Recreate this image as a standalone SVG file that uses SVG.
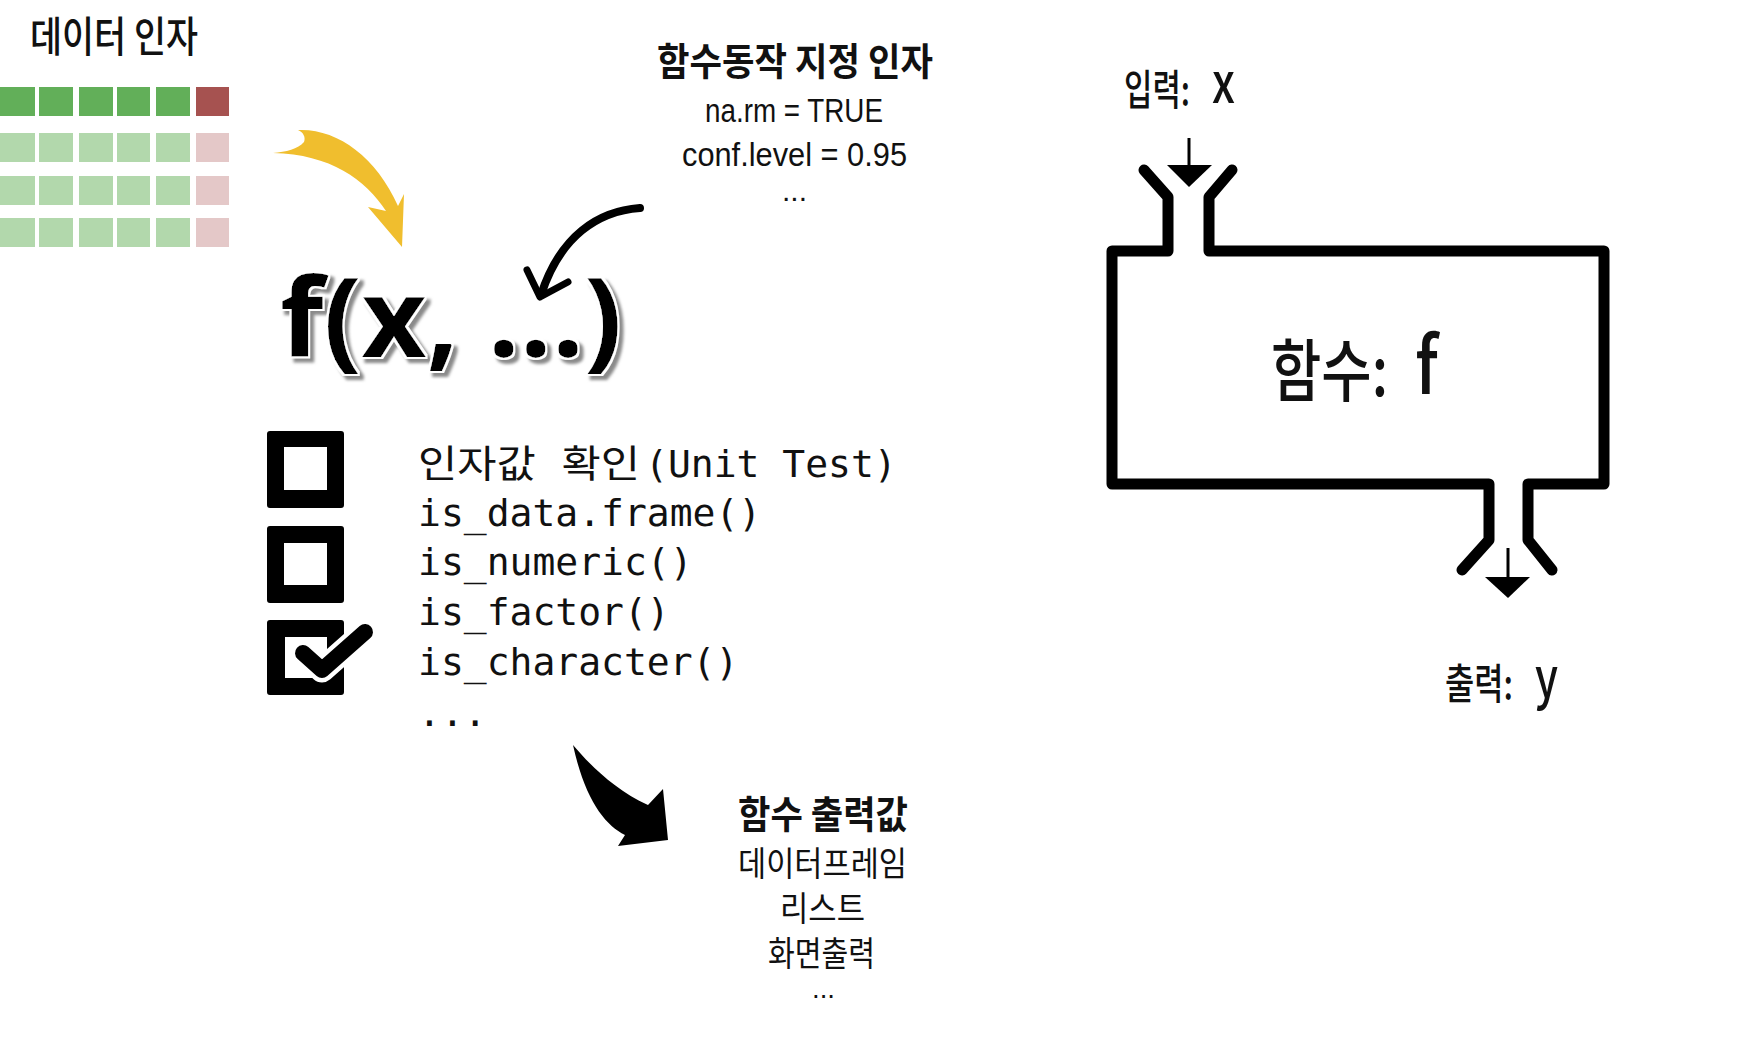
<svg xmlns="http://www.w3.org/2000/svg" width="1745" height="1041" viewBox="0 0 1745 1041">
<style>
.kr{font-family:"Noto Sans CJK KR","Noto Sans",sans-serif;fill:#111}
.lat{font-family:"Liberation Sans","Noto Sans",sans-serif;fill:#111}
.b{font-weight:bold}
.m{font-weight:500}
.mono{font-family:"DejaVu Sans Mono","Noto Sans CJK KR",monospace;font-size:38px;fill:#111}
.dg{fill:#62AF59}.dr{fill:#A65250}.lg{fill:#B2D8AC}.lp{fill:#E4C8C8}
.box{fill:#000;fill-rule:evenodd}
.pipe{fill:none;stroke:#000;stroke-width:11;stroke-linejoin:round;stroke-linecap:round}
</style>
<defs>
<filter id="sh" x="-10%" y="-10%" width="130%" height="130%">
<feMorphology in="SourceAlpha" operator="dilate" radius="2" result="d"/>
<feOffset in="d" dx="4" dy="4" result="o"/>
<feGaussianBlur in="o" stdDeviation="1.6" result="bl"/>
<feFlood flood-color="#8a8a8a" result="g"/>
<feComposite in="g" in2="bl" operator="in" result="s"/>
<feFlood flood-color="#fff" result="w"/>
<feComposite in="w" in2="d" operator="in" result="wo"/>
<feMerge><feMergeNode in="s"/><feMergeNode in="wo"/><feMergeNode in="SourceGraphic"/></feMerge>
</filter>
</defs>
<rect width="1745" height="1041" fill="#fff"/>

<g id="data-arg">
<text class="kr m" x="30" y="52" font-size="42" textLength="168" lengthAdjust="spacingAndGlyphs">데이터 인자</text>
<g id="grid">
<rect class="dg" x="0" y="87" width="35" height="29"/><rect class="dg" x="39" y="87" width="34" height="29"/><rect class="dg" x="79" y="87" width="34" height="29"/><rect class="dg" x="117" y="87" width="33" height="29"/><rect class="dg" x="156" y="87" width="34" height="29"/><rect class="dr" x="196" y="87" width="33" height="29"/>
<rect class="lg" x="0" y="133" width="35" height="29"/><rect class="lg" x="39" y="133" width="34" height="29"/><rect class="lg" x="79" y="133" width="34" height="29"/><rect class="lg" x="117" y="133" width="33" height="29"/><rect class="lg" x="156" y="133" width="34" height="29"/><rect class="lp" x="196" y="133" width="33" height="29"/>
<rect class="lg" x="0" y="176" width="35" height="29"/><rect class="lg" x="39" y="176" width="34" height="29"/><rect class="lg" x="79" y="176" width="34" height="29"/><rect class="lg" x="117" y="176" width="33" height="29"/><rect class="lg" x="156" y="176" width="34" height="29"/><rect class="lp" x="196" y="176" width="33" height="29"/>
<rect class="lg" x="0" y="218" width="35" height="29"/><rect class="lg" x="39" y="218" width="34" height="29"/><rect class="lg" x="79" y="218" width="34" height="29"/><rect class="lg" x="117" y="218" width="33" height="29"/><rect class="lg" x="156" y="218" width="34" height="29"/><rect class="lp" x="196" y="218" width="33" height="29"/>
</g>
</g>

<g id="option-arg">
<text class="kr b" x="657" y="75" font-size="38" textLength="276" lengthAdjust="spacingAndGlyphs">함수동작 지정 인자</text>
<text class="lat" x="705" y="122" font-size="33" textLength="178" lengthAdjust="spacingAndGlyphs">na.rm = TRUE</text>
<text class="lat" x="682" y="166" font-size="33" textLength="225" lengthAdjust="spacingAndGlyphs">conf.level = 0.95</text>
<text class="lat" x="782" y="201" font-size="30" textLength="25" lengthAdjust="spacingAndGlyphs">...</text>
</g>

<g id="call">
<text x="280" y="357" font-family="'Open Sans','Liberation Sans',sans-serif" font-weight="bold" font-size="110" fill="#000" textLength="342" lengthAdjust="spacingAndGlyphs" filter="url(#sh)">f(x, ...)</text>
</g>

<g id="checklist">
<path class="box" d="M270,431H341a3,3 0 0 1 3,3V505a3,3 0 0 1-3,3H270a3,3 0 0 1-3-3V434a3,3 0 0 1 3-3ZM284,447V490H327V447Z"/>
<path class="box" d="M270,526H341a3,3 0 0 1 3,3V600a3,3 0 0 1-3,3H270a3,3 0 0 1-3-3V529a3,3 0 0 1 3-3ZM284,543V585H327V543Z"/>
<path class="box" d="M270,620H341a3,3 0 0 1 3,3V692a3,3 0 0 1-3,3H270a3,3 0 0 1-3-3V623a3,3 0 0 1 3-3ZM285,637V678H327V637Z"/>
<polyline points="303,653 322,670 365,632" fill="none" stroke="#fff" stroke-width="25" stroke-linecap="round" stroke-linejoin="round"/>
<polyline points="303,653 322,670 365,632" fill="none" stroke="#000" stroke-width="16" stroke-linecap="round" stroke-linejoin="round"/>
<text class="mono" y="477"><tspan x="418" textLength="222" lengthAdjust="spacingAndGlyphs">인자값 확인</tspan><tspan x="645">(Unit Test)</tspan></text>
<text class="mono" x="418" y="526">is_data.frame()</text>
<text class="mono" x="418" y="575">is_numeric()</text>
<text class="mono" x="418" y="625">is_factor()</text>
<text class="mono" x="418" y="675">is_character()</text>
<text class="mono" x="418" y="726">...</text>
</g>

<g id="output-values">
<text class="kr b" x="738" y="828" font-size="38" textLength="170" lengthAdjust="spacingAndGlyphs">함수 출력값</text>
<text class="kr" x="738" y="876" font-size="34" textLength="169" lengthAdjust="spacingAndGlyphs">데이터프레임</text>
<text class="kr" x="780" y="921" font-size="34" textLength="85" lengthAdjust="spacingAndGlyphs">리스트</text>
<text class="kr" x="768" y="966" font-size="34" textLength="107" lengthAdjust="spacingAndGlyphs">화면출력</text>
<text class="lat" x="812" y="998" font-size="28" textLength="23" lengthAdjust="spacingAndGlyphs">...</text>
</g>

<g id="function-box">
<path class="pipe" d="M1144,170L1168,197V251H1112V484H1489V540L1462,570"/>
<path class="pipe" d="M1232,170L1209,197V251H1604V484H1528V540L1552,570"/>
<text class="kr m" y="396"><tspan x="1271" font-size="68" textLength="117" lengthAdjust="spacingAndGlyphs">함수:</tspan><tspan x="1415" y="394" font-size="78" textLength="23" lengthAdjust="spacingAndGlyphs">f</tspan></text>
</g>

<g id="input">
<text class="kr m" y="105"><tspan x="1124" font-size="42" textLength="66" lengthAdjust="spacingAndGlyphs">입력:</tspan><tspan x="1212" y="103" font-size="56" textLength="23" lengthAdjust="spacingAndGlyphs">x</tspan></text>
</g>

<g id="output">
<text class="kr m" y="699"><tspan x="1445" font-size="42" textLength="68" lengthAdjust="spacingAndGlyphs">출력:</tspan><tspan x="1535" y="698" font-size="56" textLength="23" lengthAdjust="spacingAndGlyphs">y</tspan></text>
</g>

<g id="connectors">
<path d="M273,153C286,152 298,149 304,142C306,137 303,132 298,130C336,128 376,156 398,206L404,194L402,247L368,207L386,211C366,180 330,154 273,153Z" fill="#F0BE2E"/>
<path d="M640,208C598,211 560,236 541,295" fill="none" stroke="#000" stroke-width="8" stroke-linecap="round"/>
<polyline points="527,270 540,297 568,282" fill="none" stroke="#000" stroke-width="7" stroke-linecap="round" stroke-linejoin="round"/>
<path d="M573,745C590,765 615,790 648,805L663,789L668,840L618,846L625,835C605,825 585,800 573,745Z" fill="#000"/>
<line x1="1189" y1="138" x2="1189" y2="166" stroke="#000" stroke-width="3"/>
<polygon points="1167,165 1212,165 1189,187" fill="#000"/>
<line x1="1508" y1="548" x2="1508" y2="578" stroke="#000" stroke-width="3"/>
<polygon points="1485,577 1530,577 1508,598" fill="#000"/>
</g>
</svg>
